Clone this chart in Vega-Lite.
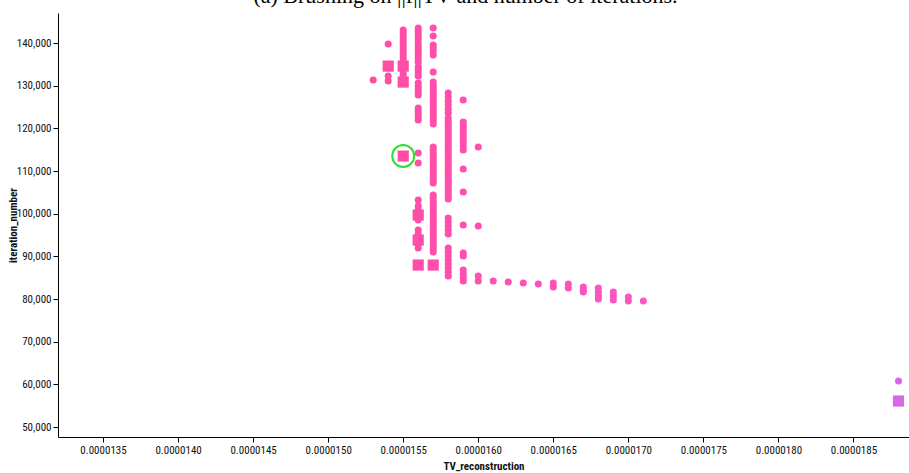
{
  "$schema": "https://vega.github.io/schema/vega-lite/v6.json",
  "width": 851,
  "height": 424,
  "autosize": {"type": "none"},
  "padding": {"left": 58, "top": 13, "right": 0, "bottom": 36},
  "title": {"text": "(a) Brushing on ||f||TV and number of iterations.", "font": "Liberation Serif", "fontSize": 22, "fontWeight": "normal", "color": "#000", "offset": 5, "anchor": "middle", "dx": -18},
  "config": {
    "view": {"stroke": null},
    "axis": {
      "labelFont": "Liberation Sans Narrow, Roboto Condensed, Roboto, sans-serif",
      "labelFontSize": 11,
      "labelColor": "#111",
      "titleFont": "Liberation Sans Narrow, Roboto Condensed, Roboto, sans-serif",
      "titleFontSize": 11,
      "titleFontWeight": "bold",
      "titleColor": "#111",
      "domainColor": "#000",
      "tickColor": "#000",
      "tickSize": 5,
      "grid": false,
      "labelPadding": 2
    }
  },
  "data": {"values": [
    {"tv": 1.53e-5, "it": 131328, "m": "c"},
    {"tv": 1.54e-5, "it": 139766, "m": "c"},
    {"tv": 1.54e-5, "it": 134609, "m": "s"},
    {"tv": 1.54e-5, "it": 132266, "m": "c"},
    {"tv": 1.54e-5, "it": 131094, "m": "c"},
    {"tv": 1.55e-5, "it": 143047, "m": "c"},
    {"tv": 1.55e-5, "it": 142344, "m": "c"},
    {"tv": 1.55e-5, "it": 141641, "m": "c"},
    {"tv": 1.55e-5, "it": 140938, "m": "c"},
    {"tv": 1.55e-5, "it": 140234, "m": "c"},
    {"tv": 1.55e-5, "it": 139531, "m": "c"},
    {"tv": 1.55e-5, "it": 138828, "m": "c"},
    {"tv": 1.55e-5, "it": 138125, "m": "c"},
    {"tv": 1.55e-5, "it": 137422, "m": "c"},
    {"tv": 1.55e-5, "it": 136719, "m": "c"},
    {"tv": 1.55e-5, "it": 136016, "m": "c"},
    {"tv": 1.55e-5, "it": 134609, "m": "s"},
    {"tv": 1.55e-5, "it": 133438, "m": "c"},
    {"tv": 1.55e-5, "it": 132734, "m": "c"},
    {"tv": 1.55e-5, "it": 132031, "m": "c"},
    {"tv": 1.55e-5, "it": 130859, "m": "s"},
    {"tv": 1.55e-5, "it": 113516, "m": "s", "sel": true},
    {"tv": 1.56e-5, "it": 143516, "m": "c"},
    {"tv": 1.56e-5, "it": 142813, "m": "c"},
    {"tv": 1.56e-5, "it": 142109, "m": "c"},
    {"tv": 1.56e-5, "it": 141406, "m": "c"},
    {"tv": 1.56e-5, "it": 140703, "m": "c"},
    {"tv": 1.56e-5, "it": 139766, "m": "c"},
    {"tv": 1.56e-5, "it": 139063, "m": "c"},
    {"tv": 1.56e-5, "it": 138359, "m": "c"},
    {"tv": 1.56e-5, "it": 137656, "m": "c"},
    {"tv": 1.56e-5, "it": 136953, "m": "c"},
    {"tv": 1.56e-5, "it": 136250, "m": "c"},
    {"tv": 1.56e-5, "it": 135547, "m": "c"},
    {"tv": 1.56e-5, "it": 134375, "m": "c"},
    {"tv": 1.56e-5, "it": 133672, "m": "c"},
    {"tv": 1.56e-5, "it": 132969, "m": "c"},
    {"tv": 1.56e-5, "it": 132266, "m": "c"},
    {"tv": 1.56e-5, "it": 130625, "m": "c"},
    {"tv": 1.56e-5, "it": 129922, "m": "c"},
    {"tv": 1.56e-5, "it": 129219, "m": "c"},
    {"tv": 1.56e-5, "it": 128516, "m": "c"},
    {"tv": 1.56e-5, "it": 127813, "m": "c"},
    {"tv": 1.56e-5, "it": 124766, "m": "c"},
    {"tv": 1.56e-5, "it": 124063, "m": "c"},
    {"tv": 1.56e-5, "it": 123359, "m": "c"},
    {"tv": 1.56e-5, "it": 122656, "m": "c"},
    {"tv": 1.56e-5, "it": 121953, "m": "c"},
    {"tv": 1.56e-5, "it": 114219, "m": "c"},
    {"tv": 1.56e-5, "it": 111875, "m": "c"},
    {"tv": 1.56e-5, "it": 103203, "m": "c"},
    {"tv": 1.56e-5, "it": 101797, "m": "c"},
    {"tv": 1.56e-5, "it": 100859, "m": "c"},
    {"tv": 1.56e-5, "it": 98516, "m": "c"},
    {"tv": 1.56e-5, "it": 96172, "m": "c"},
    {"tv": 1.56e-5, "it": 95234, "m": "c"},
    {"tv": 1.56e-5, "it": 92891, "m": "c"},
    {"tv": 1.56e-5, "it": 91953, "m": "c"},
    {"tv": 1.56e-5, "it": 99688, "m": "s"},
    {"tv": 1.56e-5, "it": 93828, "m": "s"},
    {"tv": 1.56e-5, "it": 87969, "m": "s"},
    {"tv": 1.57e-5, "it": 143516, "m": "c"},
    {"tv": 1.57e-5, "it": 141641, "m": "c"},
    {"tv": 1.57e-5, "it": 139531, "m": "c"},
    {"tv": 1.57e-5, "it": 138828, "m": "c"},
    {"tv": 1.57e-5, "it": 138125, "m": "c"},
    {"tv": 1.57e-5, "it": 137188, "m": "c"},
    {"tv": 1.57e-5, "it": 133203, "m": "c"},
    {"tv": 1.57e-5, "it": 130859, "m": "c"},
    {"tv": 1.57e-5, "it": 130156, "m": "c"},
    {"tv": 1.57e-5, "it": 129453, "m": "c"},
    {"tv": 1.57e-5, "it": 128750, "m": "c"},
    {"tv": 1.57e-5, "it": 128047, "m": "c"},
    {"tv": 1.57e-5, "it": 127344, "m": "c"},
    {"tv": 1.57e-5, "it": 126641, "m": "c"},
    {"tv": 1.57e-5, "it": 125938, "m": "c"},
    {"tv": 1.57e-5, "it": 125234, "m": "c"},
    {"tv": 1.57e-5, "it": 124531, "m": "c"},
    {"tv": 1.57e-5, "it": 123828, "m": "c"},
    {"tv": 1.57e-5, "it": 123125, "m": "c"},
    {"tv": 1.57e-5, "it": 122422, "m": "c"},
    {"tv": 1.57e-5, "it": 121719, "m": "c"},
    {"tv": 1.57e-5, "it": 121016, "m": "c"},
    {"tv": 1.57e-5, "it": 115625, "m": "c"},
    {"tv": 1.57e-5, "it": 114922, "m": "c"},
    {"tv": 1.57e-5, "it": 114219, "m": "c"},
    {"tv": 1.57e-5, "it": 113516, "m": "c"},
    {"tv": 1.57e-5, "it": 112813, "m": "c"},
    {"tv": 1.57e-5, "it": 112109, "m": "c"},
    {"tv": 1.57e-5, "it": 111406, "m": "c"},
    {"tv": 1.57e-5, "it": 110703, "m": "c"},
    {"tv": 1.57e-5, "it": 110000, "m": "c"},
    {"tv": 1.57e-5, "it": 109297, "m": "c"},
    {"tv": 1.57e-5, "it": 108594, "m": "c"},
    {"tv": 1.57e-5, "it": 107891, "m": "c"},
    {"tv": 1.57e-5, "it": 107188, "m": "c"},
    {"tv": 1.57e-5, "it": 104375, "m": "c"},
    {"tv": 1.57e-5, "it": 103672, "m": "c"},
    {"tv": 1.57e-5, "it": 102969, "m": "c"},
    {"tv": 1.57e-5, "it": 102266, "m": "c"},
    {"tv": 1.57e-5, "it": 101563, "m": "c"},
    {"tv": 1.57e-5, "it": 100859, "m": "c"},
    {"tv": 1.57e-5, "it": 100156, "m": "c"},
    {"tv": 1.57e-5, "it": 99453, "m": "c"},
    {"tv": 1.57e-5, "it": 98750, "m": "c"},
    {"tv": 1.57e-5, "it": 98047, "m": "c"},
    {"tv": 1.57e-5, "it": 97344, "m": "c"},
    {"tv": 1.57e-5, "it": 96641, "m": "c"},
    {"tv": 1.57e-5, "it": 95938, "m": "c"},
    {"tv": 1.57e-5, "it": 95234, "m": "c"},
    {"tv": 1.57e-5, "it": 94531, "m": "c"},
    {"tv": 1.57e-5, "it": 93828, "m": "c"},
    {"tv": 1.57e-5, "it": 93125, "m": "c"},
    {"tv": 1.57e-5, "it": 92422, "m": "c"},
    {"tv": 1.57e-5, "it": 91719, "m": "c"},
    {"tv": 1.57e-5, "it": 91016, "m": "c"},
    {"tv": 1.57e-5, "it": 87969, "m": "s"},
    {"tv": 1.58e-5, "it": 128281, "m": "c"},
    {"tv": 1.58e-5, "it": 127344, "m": "c"},
    {"tv": 1.58e-5, "it": 126406, "m": "c"},
    {"tv": 1.58e-5, "it": 125469, "m": "c"},
    {"tv": 1.58e-5, "it": 124531, "m": "c"},
    {"tv": 1.58e-5, "it": 123594, "m": "c"},
    {"tv": 1.58e-5, "it": 122422, "m": "c"},
    {"tv": 1.58e-5, "it": 121719, "m": "c"},
    {"tv": 1.58e-5, "it": 121016, "m": "c"},
    {"tv": 1.58e-5, "it": 120313, "m": "c"},
    {"tv": 1.58e-5, "it": 119609, "m": "c"},
    {"tv": 1.58e-5, "it": 118906, "m": "c"},
    {"tv": 1.58e-5, "it": 118203, "m": "c"},
    {"tv": 1.58e-5, "it": 117500, "m": "c"},
    {"tv": 1.58e-5, "it": 116797, "m": "c"},
    {"tv": 1.58e-5, "it": 116094, "m": "c"},
    {"tv": 1.58e-5, "it": 115391, "m": "c"},
    {"tv": 1.58e-5, "it": 114688, "m": "c"},
    {"tv": 1.58e-5, "it": 113984, "m": "c"},
    {"tv": 1.58e-5, "it": 113281, "m": "c"},
    {"tv": 1.58e-5, "it": 112578, "m": "c"},
    {"tv": 1.58e-5, "it": 111875, "m": "c"},
    {"tv": 1.58e-5, "it": 111172, "m": "c"},
    {"tv": 1.58e-5, "it": 110469, "m": "c"},
    {"tv": 1.58e-5, "it": 109766, "m": "c"},
    {"tv": 1.58e-5, "it": 109063, "m": "c"},
    {"tv": 1.58e-5, "it": 108359, "m": "c"},
    {"tv": 1.58e-5, "it": 107656, "m": "c"},
    {"tv": 1.58e-5, "it": 106953, "m": "c"},
    {"tv": 1.58e-5, "it": 106250, "m": "c"},
    {"tv": 1.58e-5, "it": 105547, "m": "c"},
    {"tv": 1.58e-5, "it": 104844, "m": "c"},
    {"tv": 1.58e-5, "it": 104141, "m": "c"},
    {"tv": 1.58e-5, "it": 103438, "m": "c"},
    {"tv": 1.58e-5, "it": 98984, "m": "c"},
    {"tv": 1.58e-5, "it": 98047, "m": "c"},
    {"tv": 1.58e-5, "it": 97109, "m": "c"},
    {"tv": 1.58e-5, "it": 96172, "m": "c"},
    {"tv": 1.58e-5, "it": 95234, "m": "c"},
    {"tv": 1.58e-5, "it": 91953, "m": "c"},
    {"tv": 1.58e-5, "it": 91016, "m": "c"},
    {"tv": 1.58e-5, "it": 90078, "m": "c"},
    {"tv": 1.58e-5, "it": 89141, "m": "c"},
    {"tv": 1.58e-5, "it": 88203, "m": "c"},
    {"tv": 1.58e-5, "it": 87266, "m": "c"},
    {"tv": 1.58e-5, "it": 86328, "m": "c"},
    {"tv": 1.58e-5, "it": 85391, "m": "c"},
    {"tv": 1.59e-5, "it": 126641, "m": "c"},
    {"tv": 1.59e-5, "it": 121484, "m": "c"},
    {"tv": 1.59e-5, "it": 120781, "m": "c"},
    {"tv": 1.59e-5, "it": 120078, "m": "c"},
    {"tv": 1.59e-5, "it": 119375, "m": "c"},
    {"tv": 1.59e-5, "it": 118672, "m": "c"},
    {"tv": 1.59e-5, "it": 117969, "m": "c"},
    {"tv": 1.59e-5, "it": 117266, "m": "c"},
    {"tv": 1.59e-5, "it": 116563, "m": "c"},
    {"tv": 1.59e-5, "it": 115859, "m": "c"},
    {"tv": 1.59e-5, "it": 114922, "m": "c"},
    {"tv": 1.59e-5, "it": 110469, "m": "c"},
    {"tv": 1.59e-5, "it": 105078, "m": "c"},
    {"tv": 1.59e-5, "it": 97344, "m": "c"},
    {"tv": 1.59e-5, "it": 90781, "m": "c"},
    {"tv": 1.59e-5, "it": 90078, "m": "c"},
    {"tv": 1.59e-5, "it": 86797, "m": "c"},
    {"tv": 1.59e-5, "it": 85859, "m": "c"},
    {"tv": 1.59e-5, "it": 84922, "m": "c"},
    {"tv": 1.59e-5, "it": 84219, "m": "c"},
    {"tv": 1.60e-5, "it": 115625, "m": "c"},
    {"tv": 1.60e-5, "it": 97109, "m": "c"},
    {"tv": 1.60e-5, "it": 85391, "m": "c"},
    {"tv": 1.60e-5, "it": 84219, "m": "c"},
    {"tv": 1.61e-5, "it": 84219, "m": "c"},
    {"tv": 1.62e-5, "it": 83984, "m": "c"},
    {"tv": 1.63e-5, "it": 83750, "m": "c"},
    {"tv": 1.64e-5, "it": 83516, "m": "c"},
    {"tv": 1.65e-5, "it": 83750, "m": "c"},
    {"tv": 1.65e-5, "it": 82813, "m": "c"},
    {"tv": 1.66e-5, "it": 83516, "m": "c"},
    {"tv": 1.66e-5, "it": 82578, "m": "c"},
    {"tv": 1.67e-5, "it": 82813, "m": "c"},
    {"tv": 1.67e-5, "it": 82109, "m": "c"},
    {"tv": 1.67e-5, "it": 81641, "m": "c"},
    {"tv": 1.68e-5, "it": 82578, "m": "c"},
    {"tv": 1.68e-5, "it": 81641, "m": "c"},
    {"tv": 1.68e-5, "it": 80703, "m": "c"},
    {"tv": 1.68e-5, "it": 80000, "m": "c"},
    {"tv": 1.69e-5, "it": 81641, "m": "c"},
    {"tv": 1.69e-5, "it": 80703, "m": "c"},
    {"tv": 1.69e-5, "it": 79766, "m": "c"},
    {"tv": 1.70e-5, "it": 80469, "m": "c"},
    {"tv": 1.70e-5, "it": 79531, "m": "c"},
    {"tv": 1.71e-5, "it": 79531, "m": "c"},
    {"tv": 1.88e-5, "it": 60781, "m": "c"},
    {"tv": 1.88e-5, "it": 56094, "m": "s"}
  ]},
  "encoding": {
    "x": {
      "field": "tv", "type": "quantitative", "title": "TV_reconstruction",
      "scale": {"domain": [1.32e-5, 1.887e-5], "zero": false, "nice": false},
      "axis": {"values": [1.35e-5, 1.40e-5, 1.45e-5, 1.50e-5, 1.55e-5, 1.60e-5, 1.65e-5, 1.70e-5, 1.75e-5, 1.80e-5, 1.85e-5], "format": ".7f", "titlePadding": 5}
    },
    "y": {
      "field": "it", "type": "quantitative", "title": "iteration_number",
      "scale": {"domain": [47660, 147050], "zero": false, "nice": false},
      "axis": {"values": [50000, 60000, 70000, 80000, 90000, 100000, 110000, 120000, 130000, 140000], "format": ",d", "titlePadding": -2}
    }
  },
  "layer": [
    {
      "mark": {"type": "point", "filled": true, "opacity": 1},
      "encoding": {
        "shape": {"field": "m", "type": "nominal", "scale": {"domain": ["c", "s"], "range": ["circle", "square"]}, "legend": null},
        "size": {"field": "m", "type": "nominal", "scale": {"domain": ["c", "s"], "range": [50, 125]}, "legend": null},
        "color": {"field": "tv", "type": "quantitative", "scale": {"domain": [1.53e-5, 1.71e-5, 1.88e-5], "range": ["#ff4da4", "#fd55c6", "#d767e8"]}, "legend": null}
      }
    },
    {
      "transform": [{"filter": "datum.sel === true"}],
      "mark": {"type": "point", "shape": "circle", "filled": false, "stroke": "#2ee02e", "strokeWidth": 2, "size": 480, "opacity": 1},
      "encoding": {}
    }
  ]
}
